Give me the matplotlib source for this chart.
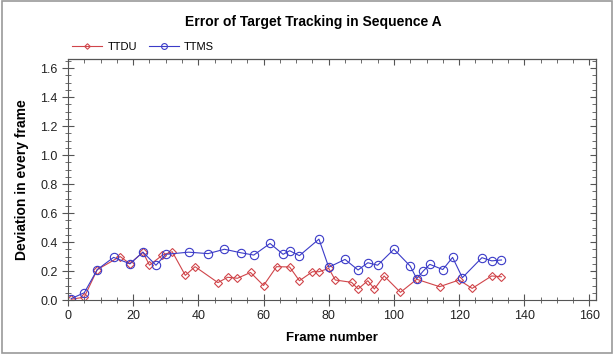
import numpy as np
import matplotlib
matplotlib.use("Agg")
import matplotlib.pyplot as plt
from matplotlib.ticker import MultipleLocator, FormatStrFormatter
from matplotlib.patches import Rectangle

plt.rcParams['font.family'] = ['Liberation Sans', 'DejaVu Sans']

# data
ttdu_x = [1, 5, 9, 16, 19, 23, 25, 29, 32, 36, 39, 46, 49, 52, 56, 60, 64, 68,
          71, 75, 77, 80, 82, 87, 89, 92, 94, 97, 102, 107, 114, 120, 124, 130, 133]
ttdu_y = [0.005, 0.02, 0.21, 0.30, 0.25, 0.33, 0.24, 0.31, 0.333, 0.17, 0.23, 0.12,
          0.157, 0.15, 0.19, 0.10, 0.23, 0.228, 0.133, 0.195, 0.195, 0.218, 0.138,
          0.122, 0.076, 0.133, 0.076, 0.166, 0.053, 0.143, 0.092, 0.138, 0.08, 0.166, 0.16]

ttms_x = [1, 5, 9, 14, 19, 23, 27, 30, 37, 43, 48, 53, 57, 62, 66, 68, 71, 77,
          80, 85, 89, 92, 95, 100, 105, 107, 109, 111, 115, 118, 121, 127, 130, 133]
ttms_y = [0.01, 0.05, 0.21, 0.294, 0.25, 0.33, 0.24, 0.315, 0.33, 0.32, 0.35, 0.326,
          0.31, 0.39, 0.315, 0.34, 0.306, 0.42, 0.226, 0.28, 0.207, 0.257, 0.24, 0.35,
          0.234, 0.147, 0.2, 0.246, 0.21, 0.294, 0.154, 0.292, 0.27, 0.276]

red = '#d0454a'
blue = '#3b3bc8'

fig = plt.figure(figsize=(6.14, 3.54), dpi=100)
fig.patches.append(Rectangle((0.003, 0.003), 0.994, 0.994, transform=fig.transFigure,
                             fill=False, edgecolor='#9a9a9a', linewidth=1.2))
ax = fig.add_axes([0.1107, 0.1525, 0.86, 0.6808])

ax.plot(ttdu_x, ttdu_y, color=red, lw=0.8, marker='D', markersize=4,
        markerfacecolor='none', markeredgecolor=red, markeredgewidth=0.8, label='TTDU')
ax.plot(ttms_x, ttms_y, color=blue, lw=0.8, marker='o', markersize=6,
        markerfacecolor='none', markeredgecolor=blue, markeredgewidth=0.8, label='TTMS')

ax.set_xlim(0, 162)
ax.set_ylim(0, 1.662)
ax.xaxis.set_major_locator(MultipleLocator(20))
ax.xaxis.set_minor_locator(MultipleLocator(5))
ax.yaxis.set_major_locator(MultipleLocator(0.2))
ax.yaxis.set_minor_locator(MultipleLocator(0.05))
ax.yaxis.set_major_formatter(FormatStrFormatter('%.1f'))

for s in ax.spines.values():
    s.set_color('#555555')
    s.set_linewidth(0.8)
ax.tick_params(which='both', direction='inout', colors='#555555', labelcolor='#222222',
               labelsize=9)
ax.tick_params(which='major', length=8, width=0.8)
ax.tick_params(which='minor', length=5, width=0.6)

# inward ticks on the top and right edges
top = ax.secondary_xaxis('top')
top.xaxis.set_major_locator(MultipleLocator(20))
top.xaxis.set_minor_locator(MultipleLocator(5))
top.tick_params(which='both', direction='in', colors='#555555', labeltop=False)
top.tick_params(which='major', length=4, width=0.8)
top.tick_params(which='minor', length=3, width=0.6)
right = ax.secondary_yaxis('right')
right.yaxis.set_major_locator(MultipleLocator(0.2))
right.yaxis.set_minor_locator(MultipleLocator(0.05))
right.tick_params(which='both', direction='in', colors='#555555', labelright=False)
right.tick_params(which='major', length=4, width=0.8)
right.tick_params(which='minor', length=3, width=0.6)

ax.set_xlabel('Frame number', fontsize=9.5, fontweight='bold', labelpad=7)
ax.set_ylabel('Deviation in every frame', fontsize=10, fontweight='bold', labelpad=8)
fig.text(0.511, 0.938, 'Error of Target Tracking in Sequence A', ha='center', va='center',
         fontsize=10, fontweight='bold')

ax.legend(loc='lower left', bbox_to_anchor=(0.0, 1.01), ncol=2, frameon=False,
          fontsize=8, handlelength=2.7, columnspacing=1.0, handletextpad=0.5,
          borderaxespad=0.2, borderpad=0.2, markerscale=0.7)

fig.savefig('out.png', dpi=100)
